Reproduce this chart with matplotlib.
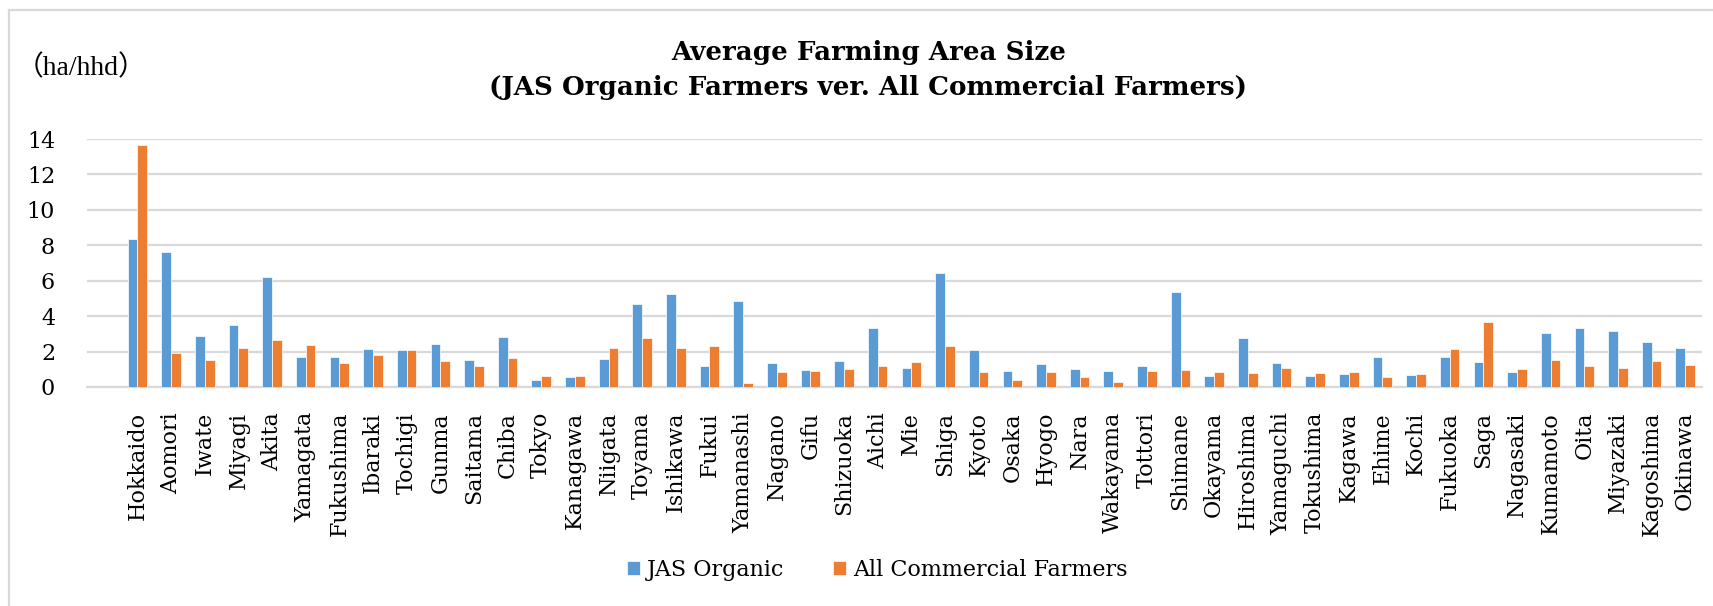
import numpy as np
import matplotlib
matplotlib.use('Agg')
import matplotlib.pyplot as plt
from matplotlib.lines import Line2D

# prefectures, north to south
prefectures = ['Hokkaido', 'Aomori', 'Iwate', 'Miyagi', 'Akita', 'Yamagata', 'Fukushima',
               'Ibaraki', 'Tochigi', 'Gunma', 'Saitama', 'Chiba', 'Tokyo', 'Kanagawa',
               'Niigata', 'Toyama', 'Ishikawa', 'Fukui', 'Yamanashi', 'Nagano', 'Gifu',
               'Shizuoka', 'Aichi', 'Mie', 'Shiga', 'Kyoto', 'Osaka', 'Hyogo', 'Nara',
               'Wakayama', 'Tottori', 'Shimane', 'Okayama', 'Hiroshima', 'Yamaguchi',
               'Tokushima', 'Kagawa', 'Ehime', 'Kochi', 'Fukuoka', 'Saga', 'Nagasaki',
               'Kumamoto', 'Oita', 'Miyazaki', 'Kagoshima', 'Okinawa']

# average farming area (ha per household)
jas_organic = [8.36, 7.61, 2.89, 3.52, 6.22, 1.69, 1.67, 2.14, 2.11, 2.42, 1.54, 2.84,
               0.41, 0.55, 1.58, 4.68, 5.23, 1.20, 4.83, 1.37, 0.96, 1.48, 3.35, 1.09,
               6.45, 2.09, 0.88, 1.30, 1.02, 0.90, 1.18, 5.38, 0.60, 2.74, 1.35, 0.64,
               0.71, 1.71, 0.66, 1.67, 1.43, 0.83, 3.03, 3.35, 3.18, 2.54, 2.18]
all_commercial = [13.67, 1.94, 1.54, 2.22, 2.67, 2.39, 1.35, 1.80, 2.07, 1.48, 1.20, 1.64,
                  0.60, 0.62, 2.22, 2.78, 2.18, 2.29, 0.24, 0.83, 0.92, 1.02, 1.18, 1.39,
                  2.31, 0.85, 0.41, 0.83, 0.58, 0.26, 0.92, 0.98, 0.85, 0.81, 1.09, 0.81,
                  0.83, 0.56, 0.73, 2.14, 3.68, 1.02, 1.54, 1.17, 1.07, 1.47, 1.22]

yticks = [0, 2, 4, 6, 8, 10, 12, 14]

BLUE = '#5B9BD5'
ORANGE = '#ED7D31'
GRID = '#D9D9D9'
serif = ['DejaVu Serif', 'Noto Sans CJK JP']

fig = plt.figure(figsize=(17.13, 6.06), dpi=100)
ax = fig.add_axes([0.0508, 0.3614, 0.9428, 0.4092])

x = np.arange(len(prefectures))
w = 0.29
ax.bar(x - w / 2, jas_organic, w, color=BLUE, edgecolor='white', linewidth=0.5,
       label='JAS Organic', zorder=3)
ax.bar(x + w / 2, all_commercial, w, color=ORANGE, edgecolor='white', linewidth=0.5,
       label='All Commercial Farmers', zorder=3)

ax.set_xlim(-1.5, len(prefectures) - 0.5)
ax.set_ylim(0, 14)
ax.set_yticks(yticks)
ax.set_yticklabels([str(t) for t in yticks], family=serif, fontsize=16)
ax.set_xticks(x)
ax.set_xticklabels(prefectures, rotation=90, family=serif, fontsize=16, va='top')
ax.tick_params(axis='both', length=0)
ax.tick_params(axis='y', pad=23)
ax.tick_params(axis='x', pad=18)

ax.grid(axis='y', color=GRID, linewidth=1.6, zorder=0)
for s in ['top', 'right', 'left']:
    ax.spines[s].set_visible(False)
ax.spines['bottom'].set_color(GRID)
ax.spines['bottom'].set_linewidth(1.6)

fig.text(0.507, 0.884, 'Average Farming Area Size\n(JAS Organic Farmers ver. All Commercial Farmers)',
         ha='center', va='center', fontsize=18.8, fontweight='bold', family=serif,
         linespacing=1.5)
# unit label with full-width parentheses
fig.text(0.009, 0.888, '（ha/hhd）', ha='left', va='center', fontsize=20,
         family=['Liberation Serif', 'Noto Sans CJK JP'])

leg = fig.legend(loc='center', bbox_to_anchor=(0.512, 0.06), ncol=2, frameon=False,
                 prop={'family': serif, 'size': 16}, handlelength=0.6, handleheight=0.6,
                 handletextpad=0.3, columnspacing=2.2)

# chart area border
fig.add_artist(Line2D([0.0055, 0.0055], [0, 0.9835], transform=fig.transFigure,
                      color=GRID, linewidth=1.6))
fig.add_artist(Line2D([0.0055, 1.0], [0.9835, 0.9835], transform=fig.transFigure,
                      color=GRID, linewidth=1.6))

fig.savefig('out.png', dpi=100)
